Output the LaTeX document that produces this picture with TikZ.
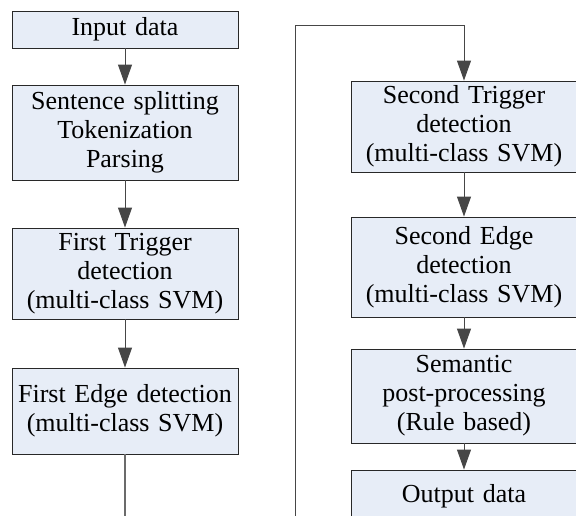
\documentclass[tikz,border=0pt]{standalone}
\usepackage{fontspec}
\setmainfont{Liberation Serif}
\usetikzlibrary{arrows.meta}

\definecolor{boxfill}{RGB}{231,237,247}
\definecolor{boxline}{RGB}{40,40,40}
\definecolor{flowline}{RGB}{70,70,70}

\tikzset{
  stepbox/.style={draw=boxline, fill=boxfill, line width=0.9pt,
    minimum width=226pt, text width=222pt, align=center, inner sep=0pt,
    font=\fontsize{26}{29}\selectfont},
  flow/.style={draw=flowline, line width=1pt,
    -{Triangle[length=20pt,width=14pt]}},
  plainflow/.style={draw=flowline!80, line width=1.1pt}
}

\begin{document}
\begin{tikzpicture}[x=1pt, y=-1pt]
  \useasboundingbox (0,0) rectangle (576,515);
  \clip (0,0) rectangle (576,515);

  % left column
  \node[stepbox, minimum height=37pt] (in)  at (125,29.5)  {Input data};
  \node[stepbox, minimum height=95pt] (sst) at (125,132.5) {Sentence splitting\\Tokenization\\Parsing};
  \node[stepbox, minimum height=91pt] (ft)  at (125,273.5) {First Trigger\\detection\\(multi-class SVM)};
  \node[stepbox, minimum height=86pt] (fe)  at (125,411)   {First Edge detection\\(multi-class SVM)};

  % right column
  \node[stepbox, minimum height=91pt]  (st)  at (464,126.5) {Second Trigger\\detection\\(multi-class SVM)};
  \node[stepbox, minimum height=100pt] (se)  at (464,267)   {Second Edge\\detection\\(multi-class SVM)};
  \node[stepbox, minimum height=94pt]  (sem) at (464,396)   {Semantic\\post-processing\\(Rule based)};
  \node[stepbox, minimum height=52pt]  (out) at (464,496)   {Output data};

  % connection points of the wrap-around line
  \coordinate (leftend)  at (125,530);
  \coordinate (rightend) at (295,530);
  \coordinate (corner)   at (295,25);

  % arrows
  \draw[flow] (in) -- (sst);
  \draw[flow] (sst) -- (ft);
  \draw[flow] (ft) -- (fe);
  \draw[plainflow] (fe.south) -- (leftend);
  \draw[flow] (rightend) -- (corner) -| (st.north);
  \draw[flow] (st) -- (se);
  \draw[flow] (se) -- (sem);
  \draw[flow] (sem) -- (out);
\end{tikzpicture}
\end{document}
